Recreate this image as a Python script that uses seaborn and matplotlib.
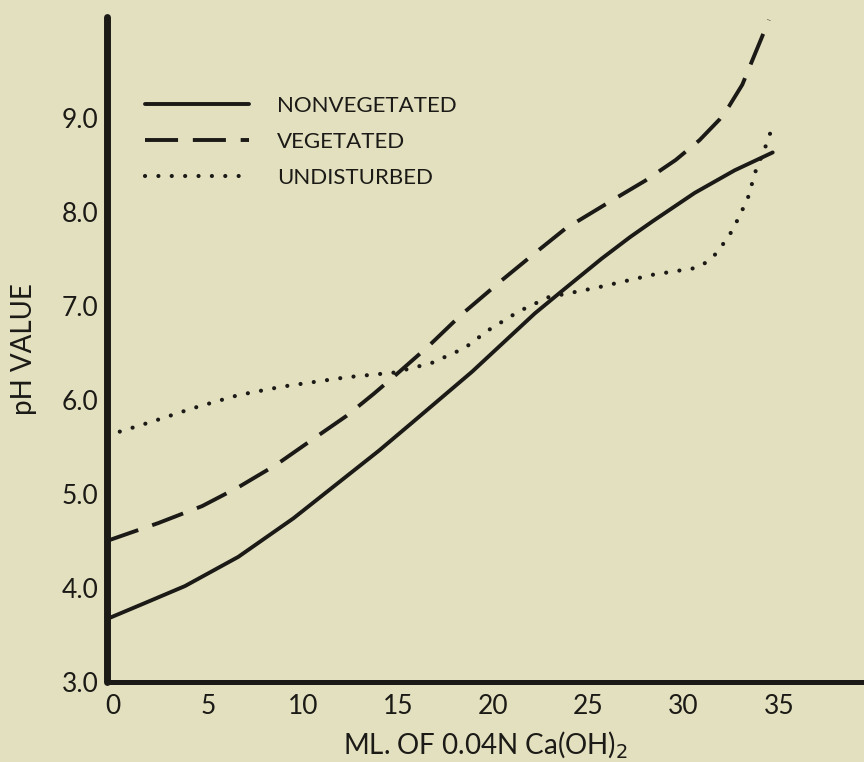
import matplotlib
matplotlib.use("Agg")
import matplotlib.pyplot as plt
import matplotlib.transforms as mtransforms
import seaborn as sns

# pH vs ml of 0.04N Ca(OH)2
nonveg_ml = [0, 2.0, 4.1, 6.9, 9.8, 12.3, 14.3, 16.0, 19.2, 22.5, 24.0, 26.0, 27.5, 28.7, 30.9, 33.0, 35.0]
nonveg_ph = [3.67, 3.84, 4.02, 4.33, 4.74, 5.14, 5.46, 5.75, 6.3, 6.92, 7.17, 7.5, 7.73, 7.9, 8.2, 8.44, 8.63]

veg_ml = [0, 2.7, 5.0, 6.9, 8.9, 10.6, 12.6, 14.0, 15.1, 16.9, 18.6, 20.75, 22.5, 24.1,
          26.55, 28.3, 29.9, 31.15, 32.2, 32.7, 33.4, 33.95, 34.4, 34.8]
veg_ph = [4.5, 4.69, 4.87, 5.07, 5.31, 5.55, 5.83, 6.06, 6.25, 6.57, 6.9, 7.27, 7.56, 7.82,
          8.12, 8.33, 8.55, 8.76, 8.98, 9.12, 9.35, 9.62, 9.84, 10.04]

undist_ml = [0, 2.4, 4.5, 6.9, 9.2, 12.6, 15.1, 17.05, 18.8, 20.05, 21.65, 23.2, 25.7,
             28.7, 30.9, 31.5, 32.0, 32.7, 33.25, 33.7, 34.1, 34.6, 35.0]
undist_ph = [5.62, 5.77, 5.91, 6.05, 6.14, 6.24, 6.29, 6.39, 6.55, 6.74, 6.94, 7.09, 7.19,
             7.33, 7.4, 7.46, 7.55, 7.74, 7.95, 8.15, 8.43, 8.68, 8.91]

x_ticks = [0, 5, 10, 15, 20, 25, 30, 35]
y_ticks = [3.0, 4.0, 5.0, 6.0, 7.0, 8.0, 9.0]
y_tick_labels = ["3.0", "4.0", "5.0", "6.0", "7.0", "8.0", "9.0"]

paper = "#e3e0bf"
ink = "#1b1a16"

sns.set_theme(style="white")
plt.rcParams["font.family"] = ["Lato", "DejaVu Sans"]

fig = plt.figure(figsize=(8.64, 7.62), dpi=100, facecolor=paper)
ax = fig.add_axes([107 / 864, 1 - 682 / 762, 757 / 864, 665 / 762])
ax.set_facecolor(paper)

# curves
sns.lineplot(x=nonveg_ml, y=nonveg_ph, ax=ax, color=ink, lw=2.8, estimator=None,
             label="NONVEGETATED", solid_capstyle="round", solid_joinstyle="round", clip_on=False)
sns.lineplot(x=veg_ml, y=veg_ph, ax=ax, color=ink, lw=2.8, estimator=None,
             label="VEGETATED", linestyle=(0, (8.5, 3.8)), dash_capstyle="butt",
             dash_joinstyle="round", clip_on=False)
sns.lineplot(x=undist_ml, y=undist_ph, ax=ax, color=ink, lw=3.0, estimator=None,
             label="UNDISTURBED", linestyle=(0, (0.01, 3.2)), dash_capstyle="round", clip_on=False)

ax.set_xlim(0, 39.8)
ax.set_ylim(3.0, 10.07)

# axes: thick left/bottom lines only
sns.despine(ax=ax)
ax.spines["left"].set_linewidth(5)
ax.spines["bottom"].set_linewidth(3.6)
for side in ["left", "bottom"]:
    ax.spines[side].set_color(ink)
    ax.spines[side].set_capstyle("round")

ax.set_xticks(x_ticks)
ax.set_yticks(y_ticks, labels=y_tick_labels)
ax.tick_params(axis="both", length=0, labelsize=19, labelcolor=ink)
ax.tick_params(axis="x", pad=9)
ax.tick_params(axis="y", pad=6)
# hand-lettered numbers sit a bit right of the tick positions
shift = mtransforms.ScaledTranslation(6 / 100, 0, fig.dpi_scale_trans)
for lab in ax.get_xticklabels():
    lab.set_transform(lab.get_transform() + shift)

ax.set_xlabel("ML. OF 0.04N Ca(OH)$_2$", fontsize=20, color=ink, labelpad=7)
ax.set_ylabel("pH VALUE", fontsize=20, color=ink)
ax.yaxis.set_label_coords(-0.092, 0.5)

ax.legend(loc="upper left", bbox_to_anchor=(0.05, 0.881), frameon=False, fontsize=16,
          handlelength=4.7, handletextpad=1.26, labelspacing=0.72, borderpad=0,
          borderaxespad=0, labelcolor=ink)

fig.savefig("out.png", dpi=100, facecolor=paper)
